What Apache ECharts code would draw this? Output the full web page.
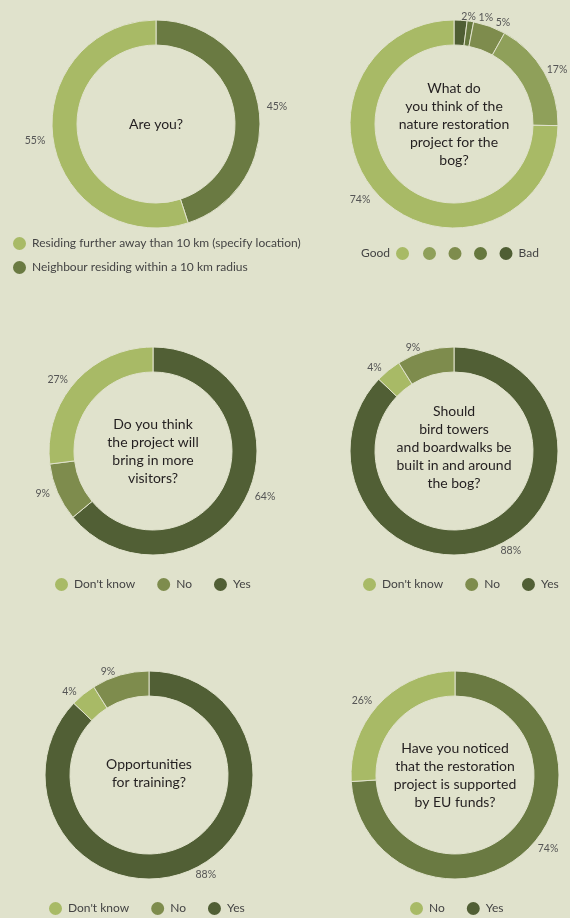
<!DOCTYPE html>
<html>
<head>
<meta charset="utf-8">
<script src="https://cdn.jsdelivr.net/npm/echarts@6/dist/echarts.min.js"></script>
<style>
html,body{margin:0;padding:0;background:#e0e2cc;}
#chart{width:570px;height:918px;}
</style>
</head>
<body>
<div id="chart"></div>
<script>
// ---- Data ----
const q1Title = 'Are you?';
const q1Categories = ['Neighbour residing within a 10 km radius', 'Residing further away than 10 km (specify location)'];
const q1Values = [45, 55];
const q1LegendOrder = ['Residing further away than 10 km (specify location)', 'Neighbour residing within a 10 km radius'];

const q2Title = 'What do\nyou think of the\nnature restoration\nproject for the\nbog?';
const q2Categories = ['Bad', 'Rather bad', 'Neutral', 'Rather good', 'Good'];
const q2Values = [2, 1, 5, 17, 74];

const q3Title = 'Do you think\nthe project will\nbring in more\nvisitors?';
const q3Categories = ['Yes', 'No', "Don't know"];
const q3Values = [64, 9, 27];

const q4Title = 'Should\nbird towers\nand boardwalks be\nbuilt in and around\nthe bog?';
const q4Categories = ['Yes', "Don't know", 'No'];
const q4Values = [88, 4, 9];

const q5Title = 'Opportunities\nfor training?';
const q5Categories = ['Yes', "Don't know", 'No'];
const q5Values = [88, 4, 9];

const q6Title = 'Have you noticed\nthat the restoration\nproject is supported\nby EU funds?';
const q6Categories = ['Yes', 'No'];
const q6Values = [74, 26];

const answerLegend = ["Don't know", 'No', 'Yes'];
const yesNoLegend = ['No', 'Yes'];

// ---- Styles ----
const BG = '#e0e2cc';
const FONT = 'Lato, "Open Sans", sans-serif';
const C = {
  light: '#a8ba66', mid2: '#8fa05a', mid: '#7e8c4d', dark4: '#66783e',
  dark: '#6a7a42', darkest: '#515f35', bad: '#4f5e33'
};
const q1Colors = [C.dark, C.light];
const q2Colors = [C.bad, C.dark4, C.mid, C.mid2, C.light];
const answerColors = { "Don't know": C.light, 'No': C.mid, 'Yes': C.darkest };
const q6Colors = { 'Yes': C.dark, 'No': C.light };
const q6LegendColors = { 'No': C.light, 'Yes': C.darkest };

const R = [79, 104];

function pie(id, center, cats, vals, colorFor, extra) {
  return Object.assign({
    type: 'pie', id: id, center: center, radius: R, startAngle: 90, clockwise: true,
    avoidLabelOverlap: false, silent: true,
    itemStyle: { borderColor: BG, borderWidth: 1 },
    label: { show: true, position: 'outside', formatter: '{c}%', fontSize: 10.5, color: '#555', fontFamily: FONT,
      distanceToLabelLine: 1, padding: [0, 3] },
    labelLine: { show: false, length: 4, length2: 0 },
    emphasis: { disabled: true },
    data: cats.map((n, i) => ({ name: n, value: vals[i], itemStyle: { color: colorFor(n, i) } }))
  }, extra || {});
}

function title(text, x, y) {
  return { text: text, left: x, top: y, textAlign: 'center', textVerticalAlign: 'middle', padding: 0,
    textStyle: { fontSize: 14, lineHeight: 18, fontWeight: 'normal', color: '#231f20', fontFamily: FONT } };
}

function legend(names, colorMap, left, top, extra) {
  return Object.assign({
    left: left, top: top, orient: 'horizontal', icon: 'circle', itemWidth: 15, itemHeight: 15, itemGap: 20,
    selectedMode: false, padding: 0,
    textStyle: { fontSize: 12, color: '#444', fontFamily: FONT },
    data: names.map(n => ({ name: n, itemStyle: { color: colorMap[n] } }))
  }, extra || {});
}

const q1ColorMap = {}; q1Categories.forEach((n, i) => q1ColorMap[n] = q1Colors[i]);
const q2ColorMap = {}; q2Categories.forEach((n, i) => q2ColorMap[n] = q2Colors[i]);

const chart = echarts.init(document.getElementById('chart'), null, { renderer: 'canvas' });
chart.setOption({
  backgroundColor: BG,
  animation: false,
  title: [
    title(q1Title, 156, 124),
    title(q2Title, 454, 124),
    title(q3Title, 153, 451),
    title(q4Title, 454, 447),
    title(q5Title, 149, 773),
    title(q6Title, 455, 775)
  ],
  legend: [
    legend(q1LegendOrder, q1ColorMap, 11, 235, { orient: 'vertical', itemGap: 7 }),
    legend(['Good'], q2ColorMap, 361, 245, { align: 'right' }),
    legend(['Rather good', 'Neutral', 'Rather bad', 'Bad'], q2ColorMap, 421, 245, {
      align: 'left', itemGap: 8.5,
      formatter: n => (n === 'Bad' ? n : '')
    }),
    legend(answerLegend, answerColors, 53, 576),
    legend(answerLegend, answerColors, 361, 576),
    legend(answerLegend, answerColors, 47, 900),
    legend(yesNoLegend, q6LegendColors, 408, 900)
  ],
  series: [
    pie('q1', [156, 124], q1Categories, q1Values, (n, i) => q1Colors[i]),
    pie('q2', [454, 124], q2Categories, q2Values, (n, i) => q2Colors[i], {
      label: { show: true, position: 'outside', formatter: '{c}% ', fontSize: 10.5, color: '#555', fontFamily: FONT,
        distanceToLabelLine: 1, padding: [0, 3] },
      labelLayout: { moveOverlap: 'shiftX' }
    }),
    pie('q3', [153, 451], q3Categories, q3Values, n => answerColors[n]),
    pie('q4', [454, 451], q4Categories, q4Values, n => answerColors[n]),
    pie('q5', [149, 775], q5Categories, q5Values, n => answerColors[n]),
    pie('q6', [455, 775], q6Categories, q6Values, n => q6Colors[n])
  ]
});
</script>
</body>
</html>
